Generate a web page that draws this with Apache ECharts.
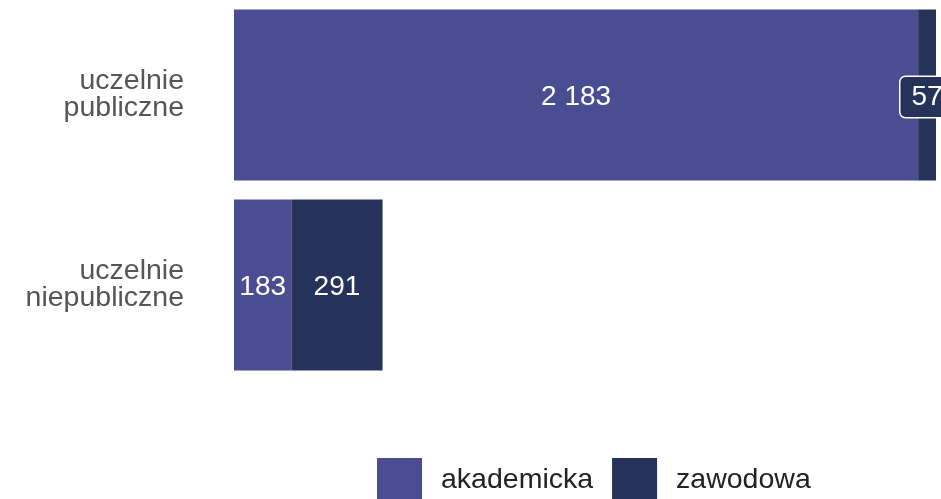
<!DOCTYPE html>
<html>
<head>
<meta charset="utf-8">
<style>
  html, body { margin: 0; padding: 0; background: #ffffff; }
  #chart { width: 941px; height: 499px; }
</style>
<script src="https://cdn.jsdelivr.net/npm/echarts@6/dist/echarts.min.js"></script>
</head>
<body>
<div id="chart"></div>
<script>
// Institution types (top to bottom)
const categories = ['uczelnie\npubliczne', 'uczelnie\nniepubliczne'];
// Profile names for the two stacked series
const seriesNames = ['akademicka', 'zawodowa'];
// Counts per profile
const akademicka = [2183, 183];
const zawodowa = [57, 291];

const colors = ['#4b4d93', '#25335b'];
const FONT = '"Liberation Sans", Arial, sans-serif';

function fmt(v) {
  return String(v).replace(/\B(?=(\d{3})+(?!\d))/g, ' ');
}

const chart = echarts.init(document.getElementById('chart'), null, { renderer: 'canvas' });

// Narrow segments get a boxed label so the number stays readable
function buildData(values, color, boxed) {
  return values.map((v, i) => {
    const item = { value: v };
    if (boxed && boxed[i]) {
      item.label = {
        backgroundColor: color,
        borderColor: '#ffffff',
        borderWidth: 1.5,
        borderRadius: 5,
        padding: [6, 11, 6, 11]
      };
    }
    return item;
  });
}

const baseLabel = {
  show: true,
  position: 'inside',
  offset: [0, 2],
  color: '#ffffff',
  fontFamily: FONT,
  fontSize: 28,
  formatter: p => fmt(p.value)
};

chart.setOption({
  animation: false,
  backgroundColor: '#ffffff',
  grid: { left: 234, right: 5, top: 0, bottom: 119, containLabel: false },
  xAxis: {
    type: 'value',
    min: 0,
    max: 2240,
    show: false
  },
  yAxis: {
    type: 'category',
    data: categories,
    inverse: true,
    axisLine: { show: false },
    axisTick: { show: false },
    splitLine: { show: false },
    axisLabel: {
      color: '#555555',
      fontFamily: FONT,
      fontSize: 28.5,
      lineHeight: 27,
      align: 'right',
      margin: 50
    }
  },
  legend: {
    data: seriesNames,
    left: 377,
    top: 458,
    padding: 0,
    itemWidth: 45,
    itemHeight: 45,
    itemGap: 19,
    icon: 'rect',
    textStyle: {
      color: '#222222',
      fontFamily: FONT,
      fontSize: 28.5,
      padding: [0, 0, 0, 14]
    }
  },
  series: [
    {
      name: seriesNames[0],
      type: 'bar',
      stack: 'total',
      barCategoryGap: '10%',
      itemStyle: { color: colors[0] },
      label: baseLabel,
      data: buildData(akademicka, colors[0], null)
    },
    {
      name: seriesNames[1],
      type: 'bar',
      stack: 'total',
      barCategoryGap: '10%',
      itemStyle: { color: colors[1] },
      label: baseLabel,
      data: buildData(zawodowa, colors[1], [true, false])
    }
  ]
});
</script>
</body>
</html>
